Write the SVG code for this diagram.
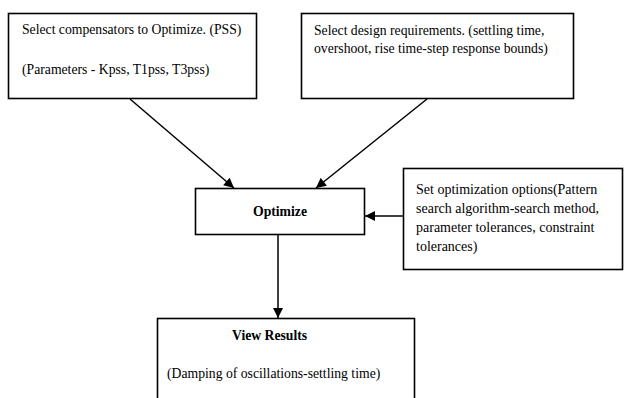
<svg xmlns="http://www.w3.org/2000/svg" width="625" height="398" viewBox="0 0 625 398">
<style>
.box{fill:#fff;stroke:#000;stroke-width:1.6}
.t{font-family:"Liberation Serif","Times New Roman",serif;font-size:13.7px;fill:#000}
.b{font-weight:bold}
.c{stroke:#000;stroke-width:1.5;fill:none}
</style>
<defs>
<marker id="ah" viewBox="0 0 10 10" refX="10" refY="5" markerWidth="11" markerHeight="10" markerUnits="userSpaceOnUse" orient="auto">
<path d="M0,0 L10,5 L0,10 Z" fill="#000"/>
</marker>
</defs>
<rect width="625" height="398" fill="#fff"/>
<g id="connectors">
<line class="c" x1="130" y1="99" x2="234" y2="188" marker-end="url(#ah)"/>
<line class="c" x1="427" y1="99" x2="316" y2="188" marker-end="url(#ah)"/>
<line class="c" x1="403" y1="216" x2="365" y2="216" marker-end="url(#ah)"/>
<line class="c" x1="278" y1="235" x2="278" y2="318" marker-end="url(#ah)"/>
</g>
<g id="node-compensators">
<rect class="box" x="8.5" y="13.5" width="248" height="85"/>
<text class="t" x="22" y="34">Select compensators to Optimize. (PSS)</text>
<text class="t" x="22" y="74">(Parameters - Kpss, T1pss, T3pss)</text>
</g>
<g id="node-requirements">
<rect class="box" x="301.5" y="13.5" width="272" height="85"/>
<text class="t" x="314" y="35">Select design requirements. (settling time,</text>
<text class="t" x="314" y="53">overshoot, rise time-step response bounds)</text>
</g>
<g id="node-optimize">
<rect class="box" x="195.5" y="188.5" width="169" height="46"/>
<text class="t b" x="280" y="216" text-anchor="middle">Optimize</text>
</g>
<g id="node-options">
<rect class="box" x="403.5" y="168.5" width="219" height="101"/>
<text class="t" x="416" y="194" style="font-size:14px">Set optimization options(Pattern</text>
<text class="t" x="416" y="213" style="font-size:14px">search algorithm-search method,</text>
<text class="t" x="416" y="232" style="font-size:14px">parameter tolerances, constraint</text>
<text class="t" x="416" y="251" style="font-size:14px">tolerances)</text>
</g>
<g id="node-results">
<rect class="box" x="157.5" y="318.5" width="257" height="90"/>
<text class="t b" x="232" y="340">View Results</text>
<text class="t" x="167" y="378">(Damping of oscillations-settling time)</text>
</g>
</svg>
